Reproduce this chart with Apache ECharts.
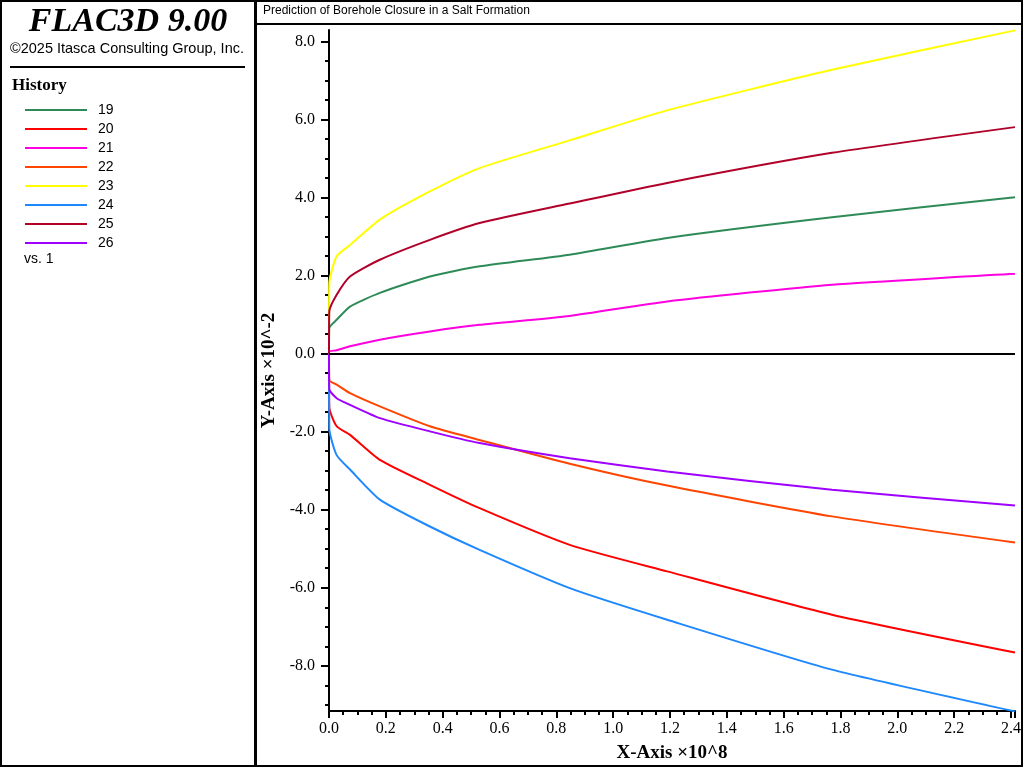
<!DOCTYPE html>
<html><head><meta charset="utf-8">
<script src="https://cdn.jsdelivr.net/npm/echarts@6/dist/echarts.min.js"></script>
<style>html,body{margin:0;padding:0;background:#fff}#c{width:1024px;height:768px}</style>
</head><body><div id="c"></div>
<script>
const xs = [0, 0.001, 0.027, 0.074, 0.179, 0.355, 0.53, 0.847, 1.19, 1.77, 2.414];
const names = ['19','20','21','22','23','24','25','26'];
const colors = ['#2e8b57','#ff0000','#ff00e0','#ff4500','#ffff00','#1e88ff','#b0002a','#a000ff'];
const h19 = [0, 0.66, 0.87, 1.21, 1.56, 1.98, 2.24, 2.54, 2.97, 3.50, 4.01];
const h20 = [0, -1.37, -1.86, -2.08, -2.72, -3.36, -3.96, -4.90, -5.58, -6.69, -7.66];
const h21 = [0, 0.06, 0.09, 0.19, 0.36, 0.57, 0.74, 0.97, 1.34, 1.77, 2.05];
const h22 = [0, -0.68, -0.79, -1.01, -1.35, -1.86, -2.21, -2.82, -3.38, -4.17, -4.84];
const h23 = [0, 1.81, 2.50, 2.79, 3.44, 4.16, 4.76, 5.47, 6.24, 7.28, 8.29];
const h24 = [0, -1.91, -2.60, -2.97, -3.74, -4.43, -5.03, -6.01, -6.82, -8.10, -9.17];
const h25 = [0, 1.08, 1.51, 1.98, 2.41, 2.92, 3.35, 3.85, 4.38, 5.15, 5.81];
const h26 = [0, -0.91, -1.14, -1.31, -1.65, -1.99, -2.29, -2.68, -3.02, -3.49, -3.89];
const yMajor = [-8, -6, -4, -2, 0, 2, 4, 6, 8];
const yMinor = [-9, -8.5, -7.5, -7, -6.5, -5.5, -5, -4.5, -3.5, -3, -2.5, -1.5, -1, -0.5, 0.5, 1, 1.5, 2.5, 3, 3.5, 4.5, 5, 5.5, 6.5, 7, 7.5];
const all = [h19,h20,h21,h22,h23,h24,h25,h26];
const serif = 'Liberation Serif';
const chart = echarts.init(document.getElementById('c'));
const grid = {left:329, top:30, width:687, height:682};
const series = all.map((d,i)=>({
  name:names[i], type:'line', showSymbol:false, smooth:0.2, xAxisIndex:0, yAxisIndex:0,
  lineStyle:{width:2,color:colors[i]}, itemStyle:{color:colors[i]},
  data: xs.map((x,j)=>[x,d[j]]), z:3
}));
series.push({type:'line', silent:true, data:[], xAxisIndex:0, yAxisIndex:0,
  markLine:{symbol:'none', silent:true, label:{show:false}, lineStyle:{color:'#000',width:2,type:'solid'}, data:[{yAxis:0}]}});
chart.setOption({
  animation:false,
  grid:[grid],
  legend:{orient:'vertical', left:20, top:98, itemGap:5, itemWidth:62, itemHeight:2, icon:'rect',
    data:names, textStyle:{fontFamily:'Arial', fontSize:14, color:'#000', padding:[0,0,0,6]}},
  xAxis:[{type:'value', min:0, max:2.414, interval:0.2, position:'bottom',
    name:'X-Axis ×10^8', nameLocation:'middle', nameGap:33,
    nameTextStyle:{fontFamily:serif, fontWeight:'bold', fontSize:19, color:'#000'},
    axisLine:{onZero:false, lineStyle:{color:'#000',width:2}},
    axisTick:{inside:false, length:7, lineStyle:{color:'#000',width:2}},
    minorTick:{show:true, splitNumber:4, length:4, lineStyle:{color:'#000',width:2}},
    axisLabel:{fontFamily:serif, fontSize:16, color:'#000', margin:10, formatter:v=>v.toFixed(1), showMaxLabel:false},
    splitLine:{show:false}}],
  yAxis:[{type:'value', min:-9.16, max:8.3,
    name:'Y-Axis ×10^-2', nameLocation:'middle', nameGap:50, nameRotate:90,
    nameTextStyle:{fontFamily:serif, fontWeight:'bold', fontSize:19, color:'#000'},
    axisLine:{onZero:false, lineStyle:{color:'#000',width:2}},
    axisTick:{customValues:yMajor, length:8, lineStyle:{color:'#000',width:2}},
    axisLabel:{customValues:yMajor, fontFamily:serif, fontSize:16, color:'#000', margin:14, formatter:v=>v.toFixed(1)},
    splitLine:{show:false}},
   {type:'value', min:-9.16, max:8.3, position:'left',
    axisLine:{show:false}, axisLabel:{show:false}, splitLine:{show:false},
    axisTick:{customValues:yMinor, length:4, lineStyle:{color:'#000',width:2}}}],
  series: series,
  graphic:[
    {type:'rect', shape:{x:1,y:1,width:254,height:765}, style:{fill:'none',stroke:'#000',lineWidth:2}},
    {type:'rect', shape:{x:256,y:1,width:766,height:765}, style:{fill:'none',stroke:'#000',lineWidth:2}},
    {type:'line', shape:{x1:256,y1:24,x2:1022,y2:24}, style:{stroke:'#000',lineWidth:2}},
    {type:'text', left:263, top:5, style:{text:'Prediction of Borehole Closure in a Salt Formation', font:'12px Arial', fill:'#000'}},
    {type:'text', x:128, y:22, style:{text:'FLAC3D 9.00', font:'italic bold 34px "Liberation Serif"', fill:'#000', align:'center', verticalAlign:'middle'}},
    {type:'text', x:127, y:49, style:{text:'©2025 Itasca Consulting Group, Inc.', font:'14.5px Arial', fill:'#000', align:'center', verticalAlign:'middle'}},
    {type:'line', shape:{x1:10,y1:67,x2:245,y2:67}, style:{stroke:'#000',lineWidth:2}},
    {type:'text', left:12, top:77, style:{text:'History', font:'bold 17px "Liberation Serif"', fill:'#000'}},
    {type:'text', left:24, top:252, style:{text:'vs. 1', font:'14px Arial', fill:'#000'}}
  ]
});
</script></body></html>
